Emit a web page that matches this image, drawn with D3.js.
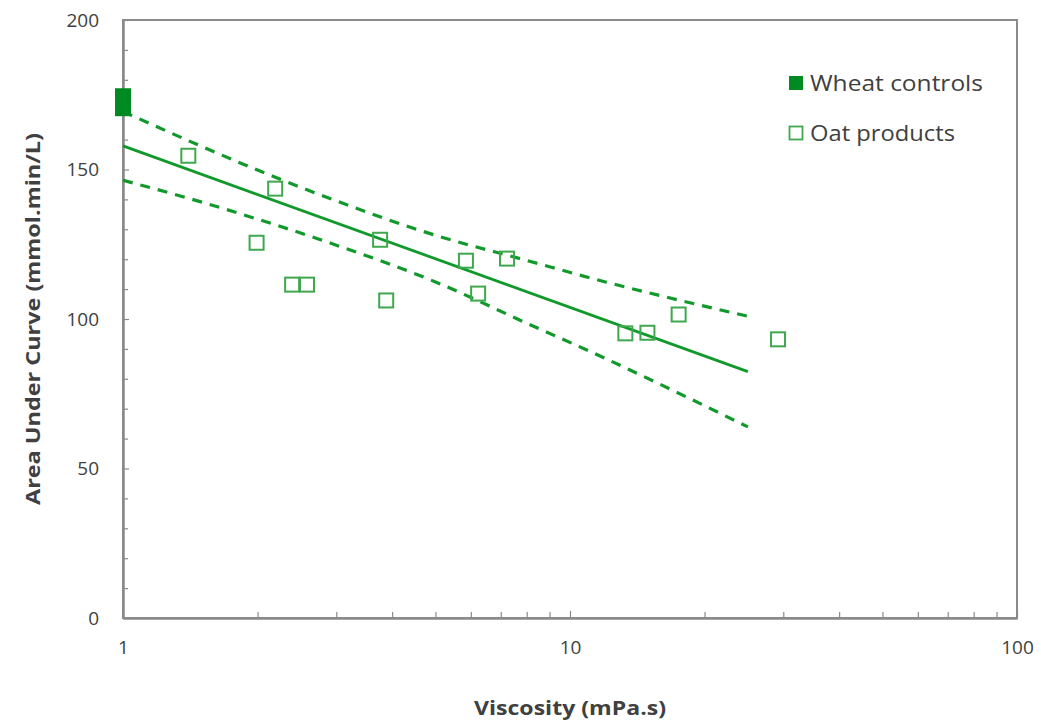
<!DOCTYPE html>
<html>
<head>
<meta charset="utf-8">
<script src="https://cdn.jsdelivr.net/npm/d3@7"></script>
<style>
  html, body { margin: 0; padding: 0; background: #fff; }
  svg text { font-family: "Open Sans", Lato, sans-serif; fill: #404040; }
</style>
</head>
<body>
<svg id="chart" width="1041" height="725"></svg>
<script>
// Wheat control AUC values (all at viscosity 1 mPa.s)
const wheatViscosity = [1, 1, 1];
const wheatAUC = [174.5, 172.5, 170.5];

// Oat product measurements
const oatViscosity = [1.4, 2.19, 1.99, 2.39, 2.58, 3.76, 3.88, 5.85, 6.23, 7.23, 13.3, 14.9, 17.5, 29.2];
const oatAUC = [154.6, 143.6, 125.5, 111.5, 111.5, 126.5, 106.2, 119.5, 108.5, 120.2, 95.2, 95.4, 101.5, 93.2];

// Regression line endpoints
const fitViscosity = [1, 25];
const fitAUC = [157.9, 82.4];

// Confidence band (upper / lower) along the fitted range
const bandViscosity = [1, 1.5, 2, 3, 5, 8, 12, 18, 25];
const bandUpper = [169.4, 157.7, 149.8, 139.5, 128.0, 119.6, 112.4, 105.9, 100.9];
const bandLower = [146.4, 139.1, 133.4, 124.7, 112.4, 98.6, 86.8, 74.3, 63.9];

// Axis ticks
const xMajorTicks = [1, 10, 100];
const xMinorTicks = [2, 3, 4, 5, 6, 7, 8, 9, 20, 30, 40, 50, 60, 70, 80, 90];
const yMajorTicks = [0, 50, 100, 150, 200];
const yMinorTicks = [10, 20, 30, 40, 60, 70, 80, 90, 110, 120, 130, 140, 160, 170, 180, 190];

const legendLabels = ["Wheat controls", "Oat products"];

const green = "#12992c";
const axisColor = "#8a8a8a";

const svg = d3.select("#chart");
const plotLeft = 123, plotRight = 1017, plotTop = 20, plotBottom = 618;

const x = d3.scaleLog().domain([1, 100]).range([plotLeft, plotRight]);
const y = d3.scaleLinear().domain([0, 200]).range([plotBottom, plotTop]);

// Frame
svg.append("rect")
  .attr("x", plotLeft).attr("y", plotTop)
  .attr("width", plotRight - plotLeft).attr("height", plotBottom - plotTop)
  .attr("fill", "none").attr("stroke", axisColor).attr("stroke-width", 2);

// X axis: major ticks with labels, minor ticks without
const xAxis = svg.append("g").attr("transform", `translate(0,${plotBottom})`)
  .call(d3.axisBottom(x).tickValues(xMajorTicks).tickSizeInner(-7).tickSizeOuter(0)
    .tickPadding(23).tickFormat(d3.format("d")));
const xMinor = svg.append("g").attr("transform", `translate(0,${plotBottom})`)
  .call(d3.axisBottom(x).tickValues(xMinorTicks).tickSizeInner(-6).tickSizeOuter(0).tickFormat(""));

// Y axis
const yAxis = svg.append("g").attr("transform", `translate(${plotLeft},0)`)
  .call(d3.axisLeft(y).tickValues(yMajorTicks).tickSizeInner(-6).tickSizeOuter(0)
    .tickPadding(24));
const yMinor = svg.append("g").attr("transform", `translate(${plotLeft},0)`)
  .call(d3.axisLeft(y).tickValues(yMinorTicks).tickSizeInner(-5).tickSizeOuter(0).tickFormat(""));

[xAxis, xMinor, yAxis, yMinor].forEach(g => {
  g.select(".domain").attr("stroke", axisColor).attr("stroke-width", 2);
  g.selectAll(".tick line").attr("stroke", axisColor).attr("stroke-width", 1.2);
});
[xAxis, yAxis].forEach(g => {
  g.selectAll(".tick text").attr("font-size", 19).attr("fill", "#404040")
    .style("font-family", "'Open Sans', Lato, sans-serif");
});

// Axis titles
svg.append("text")
  .attr("x", 570).attr("y", 715)
  .attr("text-anchor", "middle")
  .attr("font-size", 20).attr("font-weight", "bold")
  .attr("textLength", 192).attr("lengthAdjust", "spacingAndGlyphs")
  .text("Viscosity (mPa.s)");

svg.append("text")
  .attr("transform", `translate(40,319) rotate(-90)`)
  .attr("text-anchor", "middle")
  .attr("font-size", 20).attr("font-weight", "bold")
  .attr("textLength", 372).attr("lengthAdjust", "spacingAndGlyphs")
  .text("Area Under Curve (mmol.min/L)");

// Confidence bands
const bandLine = d3.line().x(d => x(d[0])).y(d => y(d[1])).curve(d3.curveMonotoneX);
[bandUpper, bandLower].forEach(vals => {
  svg.append("path")
    .datum(bandViscosity.map((v, i) => [v, vals[i]]))
    .attr("d", bandLine)
    .attr("fill", "none").attr("stroke", green)
    .attr("stroke-width", 3.2).attr("stroke-dasharray", "10,8");
});

// Regression line
svg.append("path")
  .datum(fitViscosity.map((v, i) => [v, fitAUC[i]]))
  .attr("d", d3.line().x(d => x(d[0])).y(d => y(d[1])))
  .attr("fill", "none").attr("stroke", green).attr("stroke-width", 2.8);

// Oat product markers (open squares)
const s = 14;
svg.append("g").selectAll("rect")
  .data(oatViscosity.map((v, i) => [v, oatAUC[i]]))
  .join("rect")
  .attr("x", d => x(d[0]) - s / 2).attr("y", d => y(d[1]) - s / 2)
  .attr("width", s).attr("height", s)
  .attr("fill", "none").attr("stroke", "#3fa84e").attr("stroke-width", 2);

// Wheat control markers (filled squares)
svg.append("g").selectAll("rect")
  .data(wheatViscosity.map((v, i) => [v, wheatAUC[i]]))
  .join("rect")
  .attr("x", d => x(d[0]) - 8).attr("y", d => y(d[1]) - 8)
  .attr("width", 16).attr("height", 16)
  .attr("fill", "#008a22");

// Legend
const legendWidths = [173, 145];
const legend = svg.append("g");
legendLabels.forEach((label, i) => {
  const ly = 83 + i * 50;
  legend.append("rect")
    .attr("x", 789.5).attr("y", ly - 6.5)
    .attr("width", 13).attr("height", 13)
    .attr("fill", i === 0 ? "#008a22" : "none")
    .attr("stroke", i === 0 ? "#008a22" : "#3fa84e")
    .attr("stroke-width", i === 0 ? 1 : 1.8);
  legend.append("text")
    .attr("x", 810).attr("y", ly).attr("dy", "0.36em")
    .attr("font-size", 21)
    .attr("textLength", legendWidths[i]).attr("lengthAdjust", "spacingAndGlyphs")
    .text(label);
});
</script>
</body>
</html>
